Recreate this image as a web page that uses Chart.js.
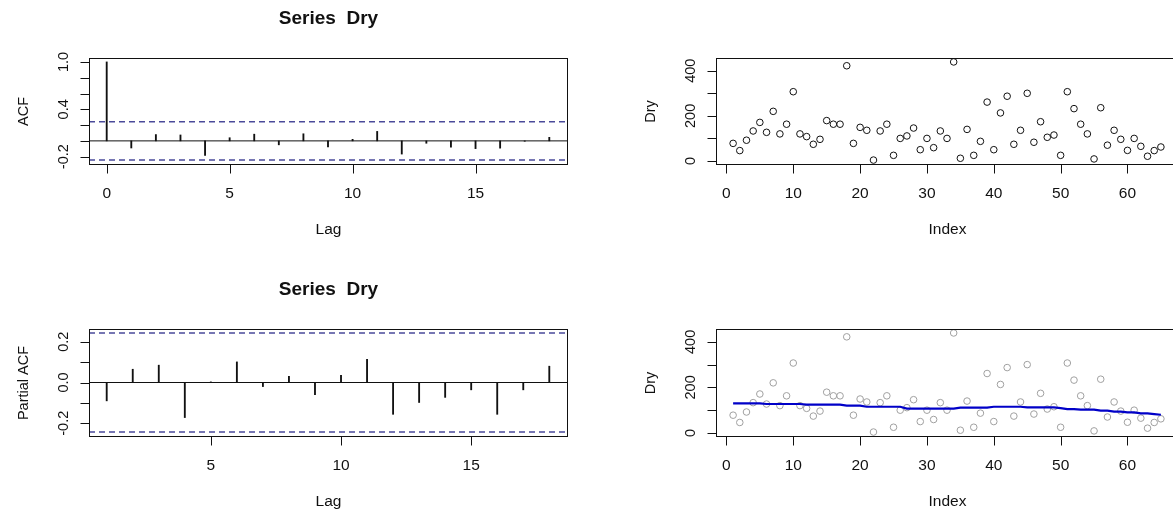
<!DOCTYPE html>
<html>
<head>
<meta charset="utf-8">
<title>Series Dry</title>
<script src="https://cdn.jsdelivr.net/npm/chart.js@4.4.1/dist/chart.umd.min.js"></script>
<style>
    html, body { margin: 0; padding: 0; background: #fff; overflow: hidden; }
    body { width: 1173px; height: 512px; position: relative; }
    canvas { position: absolute; left: 0; top: 0; }
</style>
</head>
<body>
<canvas id="acf-chart" width="1200" height="520"></canvas>
<canvas id="pacf-chart" width="1200" height="520"></canvas>
<canvas id="dry-chart" width="1200" height="520"></canvas>
<canvas id="smooth-chart" width="1200" height="520"></canvas>
<script>
// values
const ACF_LAGS = [0, 1, 2, 3, 4, 5, 6, 7, 8, 9, 10, 11, 12, 13, 14, 15, 16, 17, 18];
const ACF_VALUES = [1.0, -0.09, 0.08, 0.075, -0.185, 0.04, 0.085, -0.05, 0.09, -0.075, 0.02, 0.12, -0.167, -0.03, -0.08, -0.098, -0.092, -0.005, 0.045];
const PACF_LAGS = [1, 2, 3, 4, 5, 6, 7, 8, 9, 10, 11, 12, 13, 14, 15, 16, 17, 18];
const PACF_VALUES = [-0.09, 0.065, 0.085, -0.172, 0.003, 0.101, -0.02, 0.03, -0.06, 0.035, 0.114, -0.156, -0.098, -0.073, -0.036, -0.156, -0.036, 0.08];
const CLIM = 0.243;

const DRY = [78, 46, 92, 133, 171, 127, 220, 120, 163, 307,
    120, 108, 74, 96, 179, 163, 163, 422, 78, 149,
    136, 4, 133, 163, 25, 100, 111, 146, 50, 100,
    59, 133, 100, 439, 12, 140, 25, 87, 261, 50,
    213, 287, 74, 136, 300, 83, 174, 105, 115, 25,
    307, 232, 163, 120, 9, 236, 70, 136, 96, 47,
    100, 65, 21, 46, 62];
const SMOOTH = [130, 130, 130, 130, 130, 127, 127, 127, 127, 127,
    127, 124, 124, 124, 124, 124, 124, 120, 120, 120,
    115, 115, 115, 115, 115, 115, 107, 107, 107, 107,
    107, 107, 107, 107, 111, 111, 111, 111, 111, 115,
    115, 115, 115, 115, 112, 112, 112, 112, 112, 109,
    105, 105, 102, 102, 102, 98, 98, 94, 94, 90,
    90, 86, 86, 83, 80];
const INDEX = DRY.map((v, i) => i + 1);

const ACF_X_TICKS = [0, 5, 10, 15];
const ACF_Y_TICKS = [-0.2, 0, 0.2, 0.4, 0.6, 0.8, 1.0];
const ACF_Y_LABELS = {'-0.2': '-0.2', '0.4': '0.4', '1': '1.0'};
const PACF_X_TICKS = [5, 10, 15];
const PACF_Y_TICKS = [-0.2, -0.1, 0, 0.1, 0.2];
const PACF_Y_LABELS = {'-0.2': '-0.2', '0': '0.0', '0.2': '0.2'};
const DRY_X_TICKS = [0, 10, 20, 30, 40, 50, 60];
const DRY_Y_TICKS = [0, 100, 200, 300, 400];
const DRY_Y_LABELS = {'0': '0', '200': '200', '400': '400'};

const FONT = "'Liberation Sans', Arial, Helvetica, sans-serif";
const INK = '#111';
const CI_COLOR = '#4a4a9a';
const CANVAS_W = 1200, CANVAS_H = 520;

// R style axis range: data range stretched by 4% on each side
function rRange(vals) {
    const lo = Math.min(...vals), hi = Math.max(...vals);
    const d = (hi - lo) * 0.04;
    return [lo - d, hi + d];
}

function rotatedText(ctx, text, x, y) {
    ctx.save();
    ctx.translate(x, y);
    ctx.rotate(-Math.PI / 2);
    ctx.textAlign = 'center';
    ctx.textBaseline = 'alphabetic';
    ctx.fillText(text, 0, 0);
    ctx.restore();
}

// box, tick marks and texts drawn the way base R graphics does it
const rFrame = {
    id: 'rFrame',
    afterDraw(chart, args, o) {
        const {ctx, chartArea: a} = chart;
        const xs = chart.scales.x, ys = chart.scales.y;
        const left = Math.round(a.left) + 0.5, top = Math.round(a.top) + 0.5;
        const right = Math.round(a.right) + 0.5, bottom = Math.round(a.bottom) + 0.5;
        ctx.save();
        ctx.strokeStyle = INK;
        ctx.lineWidth = 1;
        ctx.strokeRect(left, top, right - left, bottom - top);

        ctx.beginPath();
        o.xTicks.forEach(v => {
            const px = Math.round(xs.getPixelForValue(v)) + 0.5;
            ctx.moveTo(px, bottom);
            ctx.lineTo(px, bottom + 9);
        });
        o.yTicks.forEach(v => {
            const py = Math.round(ys.getPixelForValue(v)) + 0.5;
            ctx.moveTo(left, py);
            ctx.lineTo(left - 9, py);
        });
        ctx.stroke();

        ctx.fillStyle = INK;
        ctx.font = '15.5px ' + FONT;
        ctx.textAlign = 'center';
        ctx.textBaseline = 'alphabetic';
        o.xTicks.forEach(v => ctx.fillText(String(v), xs.getPixelForValue(v), bottom + 33));
        ctx.fillText(o.xlab, (left + right) / 2, bottom + 69);

        ctx.font = '14.5px ' + FONT;
        o.yTicks.forEach(v => {
            const label = o.yLabels[String(v)];
            if (label) rotatedText(ctx, label, left - 22, ys.getPixelForValue(v));
        });
        rotatedText(ctx, o.ylab, left - 62, (top + bottom) / 2);

        if (o.title) {
            ctx.font = 'bold 19px ' + FONT;
            ctx.textAlign = 'center';
            ctx.fillText(o.title, (left + right) / 2, top - 35);
        }
        ctx.restore();
    }
};

function hLine(y, xr, color, dash, width) {
    return {
        type: 'line',
        data: [{x: xr[0], y: y}, {x: xr[1], y: y}],
        borderColor: color,
        borderWidth: width,
        borderDash: dash,
        pointRadius: 0,
        clip: 0
    };
}

function makeChart(id, type, box, datasets, xr, yr, frame) {
    return new Chart(document.getElementById(id), {
        type: type,
        data: {datasets: datasets},
        options: {
            responsive: false,
            animation: false,
            events: [],
            layout: {
                autoPadding: false,
                padding: {left: box.left, top: box.top, right: CANVAS_W - box.right, bottom: CANVAS_H - box.bottom}
            },
            scales: {
                x: {type: 'linear', display: false, offset: false, min: xr[0], max: xr[1]},
                y: {type: 'linear', display: false, min: yr[0], max: yr[1]}
            },
            plugins: {
                legend: {display: false},
                tooltip: {enabled: false},
                rFrame: frame
            }
        },
        plugins: [rFrame]
    });
}

// top left: ACF
const acfX = rRange(ACF_LAGS);
const acfY = rRange([-CLIM, CLIM, ...ACF_VALUES]);
makeChart('acf-chart', 'bar', {left: 89, top: 58, right: 567, bottom: 164}, [
    {
        type: 'bar',
        data: ACF_LAGS.map((lag, i) => ({x: lag, y: ACF_VALUES[i]})),
        backgroundColor: INK,
        barThickness: 1.2,
        grouped: false
    },
    hLine(0, acfX, INK, [], 1),
    hLine(CLIM, acfX, CI_COLOR, [6, 4], 1.4),
    hLine(-CLIM, acfX, CI_COLOR, [6, 4], 1.4)
], acfX, acfY, {
    title: 'Series  Dry', xlab: 'Lag', ylab: 'ACF',
    xTicks: ACF_X_TICKS, yTicks: ACF_Y_TICKS, yLabels: ACF_Y_LABELS
});

// bottom left: PACF
const pacfX = rRange(PACF_LAGS);
const pacfY = rRange([-CLIM, CLIM, ...PACF_VALUES]);
makeChart('pacf-chart', 'bar', {left: 89, top: 329, right: 567, bottom: 436}, [
    {
        type: 'bar',
        data: PACF_LAGS.map((lag, i) => ({x: lag, y: PACF_VALUES[i]})),
        backgroundColor: INK,
        barThickness: 1.2,
        grouped: false
    },
    hLine(0, pacfX, INK, [], 1),
    hLine(CLIM, pacfX, CI_COLOR, [6, 4], 1.4),
    hLine(-CLIM, pacfX, CI_COLOR, [6, 4], 1.4)
], pacfX, pacfY, {
    title: 'Series  Dry', xlab: 'Lag', ylab: 'Partial ACF',
    xTicks: PACF_X_TICKS, yTicks: PACF_Y_TICKS, yLabels: PACF_Y_LABELS
});

// right column: the series itself
const dryX = rRange(INDEX);
const dryY = rRange(DRY);
const dryPoints = INDEX.map((x, i) => ({x: x, y: DRY[i]}));

makeChart('dry-chart', 'scatter', {left: 716, top: 58, right: 1178, bottom: 164}, [
    {
        data: dryPoints,
        pointRadius: 3.3,
        pointBorderWidth: 1,
        pointBorderColor: INK,
        pointBackgroundColor: 'rgba(0,0,0,0)',
        clip: 6
    }
], dryX, dryY, {
    xlab: 'Index', ylab: 'Dry',
    xTicks: DRY_X_TICKS, yTicks: DRY_Y_TICKS, yLabels: DRY_Y_LABELS
});

makeChart('smooth-chart', 'scatter', {left: 716, top: 329, right: 1178, bottom: 436}, [
    {
        type: 'line',
        data: INDEX.map((x, i) => ({x: x, y: SMOOTH[i]})),
        borderColor: '#0000c8',
        borderWidth: 2.2,
        pointRadius: 0,
        tension: 0
    },
    {
        data: dryPoints,
        pointRadius: 3.3,
        pointBorderWidth: 1,
        pointBorderColor: '#a0a0a0',
        pointBackgroundColor: 'rgba(0,0,0,0)',
        clip: 6
    }
], dryX, dryY, {
    xlab: 'Index', ylab: 'Dry',
    xTicks: DRY_X_TICKS, yTicks: DRY_Y_TICKS, yLabels: DRY_Y_LABELS
});
</script>
</body>
</html>
